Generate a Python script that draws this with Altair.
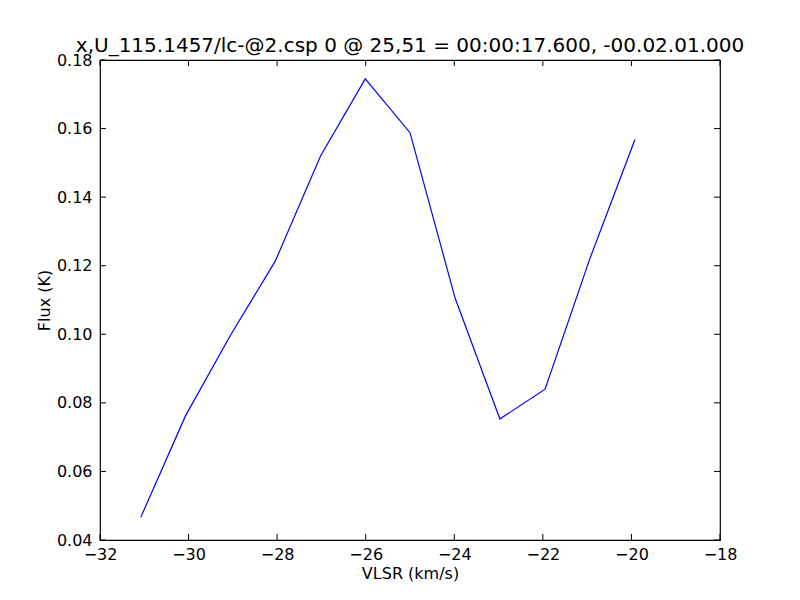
import altair as alt
import pandas as pd

vlsr = [-31.08, -30.07, -29.05, -28.04, -27.02, -26.01, -25.0, -23.98, -22.97, -21.95, -20.94, -19.92]
flux = [0.0466, 0.0762, 0.0998, 0.1214, 0.1520, 0.1745, 0.1588, 0.1105, 0.0753, 0.0840, 0.1220, 0.1568]
x_ticks = [-32, -30, -28, -26, -24, -22, -20, -18]
y_ticks = [0.04, 0.06, 0.08, 0.10, 0.12, 0.14, 0.16, 0.18]

W, H = 620, 480
FONT = "DejaVu Sans"

df = pd.DataFrame({"v": vlsr, "f": flux})
dx = pd.DataFrame({"v": x_ticks})
dy = pd.DataFrame({"f": y_ticks})

xscale = alt.Scale(domain=[-32, -18], nice=False, zero=False)
yscale = alt.Scale(domain=[0.04, 0.18], nice=False, zero=False)
xaxis = alt.Axis(values=x_ticks, format="d", tickSize=0, domain=False, grid=False,
                 labelPadding=6, titlePadding=3, labelFontSize=16, titleFontSize=16,
                 labelColor="black", titleColor="black", labelFont=FONT, titleFont=FONT,
                 titleFontWeight="normal", labelFlush=False)
yaxis = alt.Axis(values=y_ticks, format=".2f", tickSize=0, domain=False, grid=False,
                 labelPadding=8, titlePadding=4, labelFontSize=16, titleFontSize=16,
                 labelColor="black", titleColor="black", labelFont=FONT, titleFont=FONT,
                 titleFontWeight="normal", labelFlush=False)

X = lambda: alt.X("v:Q", scale=xscale, axis=xaxis, title="VLSR (km/s)")
Y = lambda: alt.Y("f:Q", scale=yscale, axis=yaxis, title="Flux (K)")

line = alt.Chart(df).mark_line(color="#0000ff", strokeWidth=1.2).encode(x=X(), y=Y())

tl = 6
xb = alt.Chart(dx).mark_rule(color="black", strokeWidth=1).encode(
    x=X(), y=alt.value(H), y2=alt.value(H - tl))
xt = alt.Chart(dx).mark_rule(color="black", strokeWidth=1).encode(
    x=X(), y=alt.value(0), y2=alt.value(tl))
yl = alt.Chart(dy).mark_rule(color="black", strokeWidth=1).encode(
    y=Y(), x=alt.value(0), x2=alt.value(tl))
yr = alt.Chart(dy).mark_rule(color="black", strokeWidth=1).encode(
    y=Y(), x=alt.value(W), x2=alt.value(W - tl))

chart = alt.layer(line, xb, xt, yl, yr).properties(
    width=W, height=H,
    title=alt.TitleParams("x,U_115.1457/lc-@2.csp 0 @ 25,51 = 00:00:17.600, -00.02.01.000",
                          fontSize=20, font=FONT, fontWeight="normal", color="black",
                          anchor="middle", offset=-4),
    autosize=alt.AutoSizeParams(type="none"),
    padding={"left": 92, "top": 52, "right": 72, "bottom": 52},
    background="white",
).configure_view(stroke="black", strokeWidth=1.2)

chart.save("out.html", embed_options={"renderer": "svg", "actions": False})
